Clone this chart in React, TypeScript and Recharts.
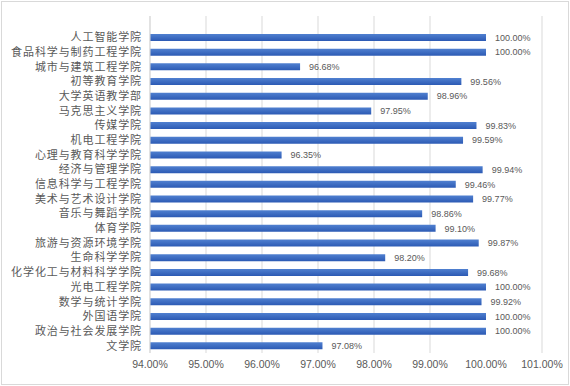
import { BarChart, Bar, XAxis, YAxis, CartesianGrid, LabelList } from 'recharts'

// Colleges, top to bottom
const colleges = [
  '人工智能学院',
  '食品科学与制药工程学院',
  '城市与建筑工程学院',
  '初等教育学院',
  '大学英语教学部',
  '马克思主义学院',
  '传媒学院',
  '机电工程学院',
  '心理与教育科学学院',
  '经济与管理学院',
  '信息科学与工程学院',
  '美术与艺术设计学院',
  '音乐与舞蹈学院',
  '体育学院',
  '旅游与资源环境学院',
  '生命科学学院',
  '化学化工与材料科学学院',
  '光电工程学院',
  '数学与统计学院',
  '外国语学院',
  '政治与社会发展学院',
  '文学院',
]

const rates = [
  100.0, 100.0, 96.68, 99.56, 98.96, 97.95, 99.83, 99.59, 96.35, 99.94, 99.46,
  99.77, 98.86, 99.1, 99.87, 98.2, 99.68, 100.0, 99.92, 100.0, 100.0, 97.08,
]

const xTicks = [94, 95, 96, 97, 98, 99, 100, 101]

const data = colleges.map((name, i) => ({ name, rate: rates[i] }))

const pct = (v: number) => `${Number(v).toFixed(2)}%`

const App = () => {
  return (
    <div style={{ position: 'absolute', left: 0, top: 0, width: 570, height: 386 }}>
      <div
        style={{
          position: 'absolute',
          left: 1,
          top: 1,
          width: 566,
          height: 382,
          border: '1px solid #d9d9d9',
        }}
      />
      <BarChart
        width={570}
        height={386}
        data={data}
        layout="vertical"
        margin={{ top: 16, right: 28, bottom: 3, left: 5 }}
        style={{ fontFamily: '"Noto Sans CJK SC", "Liberation Sans", sans-serif' }}
      >
        <defs>
          <linearGradient id="barFill" x1="0" y1="0" x2="0" y2="1">
            <stop offset="0%" stopColor="#5080d0" />
            <stop offset="100%" stopColor="#2c5ab4" />
          </linearGradient>
        </defs>
        <CartesianGrid horizontal={false} stroke="#d9d9d9" />
        <XAxis
          type="number"
          domain={[94, 101]}
          ticks={xTicks}
          tickFormatter={pct}
          axisLine={false}
          tickLine={false}
          height={30}
          tick={{ fill: '#595959', fontSize: 10.5, fontFamily: '"Liberation Sans", Arial, sans-serif' }}
        />
        <YAxis
          type="category"
          dataKey="name"
          width={145}
          interval={0}
          padding={{ top: 14, bottom: 0 }}
          axisLine={{ stroke: '#d9d9d9' }}
          tickLine={false}
          tick={{ fill: '#595959', fontSize: 11, letterSpacing: 0.9 }}
        />
        <Bar dataKey="rate" fill="url(#barFill)" barSize={7} isAnimationActive={false}>
          <LabelList
            dataKey="rate"
            position="right"
            offset={9}
            formatter={pct}
            fill="#595959"
            fontSize={9}
            fontFamily='"Liberation Sans", Arial, sans-serif'
          />
        </Bar>
      </BarChart>
    </div>
  )
}

export default App
